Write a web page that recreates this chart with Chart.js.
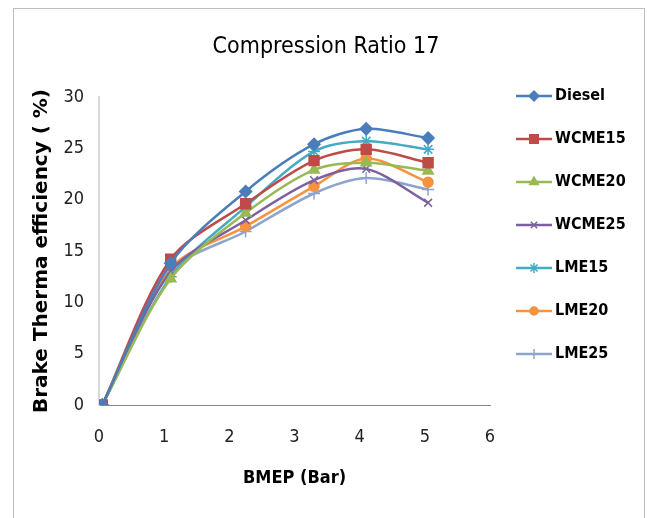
<!DOCTYPE html>
<html>
<head>
<meta charset="utf-8">
<title>Compression Ratio 17</title>
<script src="https://cdn.jsdelivr.net/npm/chart.js@4.4.1/dist/chart.umd.min.js"></script>
<style>
  html, body { margin: 0; padding: 0; background: #fff; }
  #wrap { position: relative; width: 647px; height: 518px; }
</style>
</head>
<body>
<div id="wrap"><canvas id="bteChart" width="647" height="518"></canvas></div>
<script>
// BMEP load points (bar)
var bmep = [0.05, 1.1, 2.25, 3.3, 4.1, 5.05];

// Brake thermal efficiency (%) per fuel
var diesel = [0, 13.8, 20.8, 25.4, 26.9, 26.0];
var wcme15 = [0, 14.2, 19.6, 23.8, 24.9, 23.6];
var wcme20 = [0, 12.3, 18.7, 22.9, 23.6, 22.8];
var wcme25 = [0, 13.0, 18.0, 21.9, 23.0, 19.7];
var lme15  = [0, 12.5, 19.3, 24.7, 25.7, 24.9];
var lme20  = [0, 13.3, 17.4, 21.3, 24.0, 21.7];
var lme25  = [0, 13.0, 16.9, 20.6, 22.1, 21.0];

var fuelNames = ['Diesel', 'WCME15', 'WCME20', 'WCME25', 'LME15', 'LME20', 'LME25'];
var yTicks = [0, 5, 10, 15, 20, 25, 30];
var xTicks = [0, 1, 2, 3, 4, 5, 6];
var chartTitle = 'Compression Ratio 17';

var narrow = "'DejaVu Sans Condensed', sans-serif";

function series(name, values, color, style, radius) {
    return {
        label: name,
        data: values.map(function (v, i) { return { x: bmep[i], y: v }; }),
        borderColor: color,
        backgroundColor: color,
        pointBackgroundColor: color,
        pointBorderColor: color,
        pointStyle: style,
        pointRadius: radius,
        pointBorderWidth: 1.5,
        borderWidth: 2.5,
        tension: 0.3,
        fill: false
    };
}

var datasets = [
    series(fuelNames[0], diesel, '#4a7ebb', 'rectRot', 6),
    series(fuelNames[1], wcme15, '#be4b48', 'rect', 7),
    series(fuelNames[2], wcme20, '#98b954', 'triangle', 6),
    series(fuelNames[3], wcme25, '#7d60a0', 'crossRot', 5.5),
    series(fuelNames[4], lme15, '#46aac5', 'star', 6),
    series(fuelNames[5], lme20, '#f69240', 'circle', 5),
    series(fuelNames[6], lme25, '#8ea5cb', 'cross', 6)
];

// outer chart frame and the title above the plot
var framePlugin = {
    id: 'frame',
    beforeDraw: function (chart) {
        var ctx = chart.ctx;
        ctx.save();
        ctx.strokeStyle = '#bdbdbd';
        ctx.lineWidth = 1;
        ctx.strokeRect(13.5, 8.5, 631, 540);
        ctx.fillStyle = '#000';
        ctx.font = '23px ' + narrow;
        ctx.textAlign = 'center';
        ctx.textBaseline = 'middle';
        ctx.fillText(chartTitle, 326, 47);
        ctx.restore();
    }
};

// legend on the right: short line with the series marker, then the name
var sideLegend = {
    id: 'sideLegend',
    afterDraw: function (chart) {
        var ctx = chart.ctx;
        var x0 = 516, x1 = 552, top = 96, step = 43;
        ctx.save();
        chart.data.datasets.forEach(function (ds, i) {
            var y = top + i * step;
            ctx.strokeStyle = ds.borderColor;
            ctx.fillStyle = ds.borderColor;
            ctx.lineWidth = ds.borderWidth;
            ctx.beginPath();
            ctx.moveTo(x0, y);
            ctx.lineTo(x1, y);
            ctx.stroke();
            ctx.lineWidth = ds.pointBorderWidth;
            Chart.helpers.drawPoint(ctx, {
                pointStyle: ds.pointStyle,
                radius: ds.pointRadius - 1,
                borderWidth: ds.pointBorderWidth,
                rotation: 0
            }, (x0 + x1) / 2, y);
            ctx.fillStyle = '#000';
            ctx.font = 'bold 16px ' + narrow;
            ctx.textBaseline = 'middle';
            ctx.textAlign = 'left';
            ctx.fillText(ds.label, x1 + 3, y);
        });
        ctx.restore();
    }
};

new Chart(document.getElementById('bteChart').getContext('2d'), {
    type: 'line',
    data: { datasets: datasets },
    plugins: [framePlugin, sideLegend],
    options: {
        responsive: false,
        animation: false,
        layout: { padding: { left: 0, right: 157, top: 97, bottom: 0 } },
        plugins: {
            legend: { display: false },
            tooltip: { enabled: false },
            title: { display: false }
        },
        scales: {
            x: {
                type: 'linear',
                min: 0,
                max: 6,
                afterBuildTicks: function (scale) {
                    scale.ticks = xTicks.map(function (v) { return { value: v }; });
                },
                afterFit: function (scale) { scale.height = 113; },
                grid: { display: false, drawTicks: false },
                border: { display: true, color: '#868686', width: 1 },
                ticks: {
                    color: '#222',
                    padding: 22,
                    maxRotation: 0,
                    font: { family: narrow, size: 18 }
                },
                title: {
                    display: true,
                    text: 'BMEP (Bar)',
                    color: '#000',
                    font: { family: narrow, size: 18, weight: 'bold' },
                    padding: { top: 0, bottom: 29 }
                }
            },
            y: {
                min: 0,
                max: 30,
                afterBuildTicks: function (scale) {
                    scale.ticks = yTicks.map(function (v) { return { value: v }; });
                },
                afterFit: function (scale) { scale.width = 99; },
                grid: { display: false, drawTicks: false },
                border: { display: true, color: '#d9d9d9', width: 2 },
                ticks: {
                    color: '#222',
                    padding: 15,
                    font: { family: narrow, size: 18 }
                },
                title: {
                    display: true,
                    text: 'Brake Therma efficiency ( %)',
                    color: '#000',
                    font: { family: "'DejaVu Sans', sans-serif", size: 20, weight: 'bold' },
                    padding: { top: 30, bottom: 0 }
                }
            }
        }
    }
});
</script>
</body>
</html>
